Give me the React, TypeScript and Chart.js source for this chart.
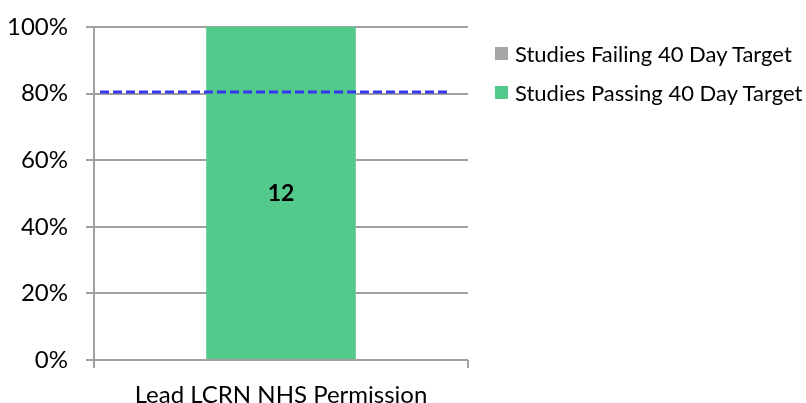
import React, { useEffect, useRef } from "react";
import { Chart, registerables } from "chart.js";

Chart.register(...registerables);

const categories = ["Lead LCRN NHS Permission"];
const failingCounts = [0];
const passingCounts = [12];
const targetPercent = 80;
const yTicks = [0, 20, 40, 60, 80, 100];
const seriesLabels = ["Studies Failing 40 Day Target", "Studies Passing 40 Day Target"];
const seriesColors = ["#A6A6A6", "#53C98B"];

const totals = categories.map((_, i) => failingCounts[i] + passingCounts[i]);
const failingPct = failingCounts.map((v, i) => (totals[i] ? (v / totals[i]) * 100 : 0));
const passingPct = passingCounts.map((v, i) => (totals[i] ? (v / totals[i]) * 100 : 0));

const FONT = "Lato, Carlito, Calibri, sans-serif";

const labelPlugin = {
  id: "barLabels",
  afterDatasetsDraw(chart: any) {
    const ctx = chart.ctx;
    const y = chart.scales.y.getPixelForValue(targetPercent) - 1.5;
    const { left, right } = chart.chartArea;
    ctx.save();
    ctx.strokeStyle = "#3636F0";
    ctx.lineWidth = 3;
    ctx.setLineDash([9, 4]);
    ctx.beginPath();
    ctx.moveTo(left + 6, y);
    ctx.lineTo(right - 20, y);
    ctx.stroke();
    ctx.setLineDash([]);
    const counts = [failingCounts, passingCounts];
    chart.data.datasets.forEach((ds: any, di: number) => {
      const meta = chart.getDatasetMeta(di);
      meta.data.forEach((bar: any, i: number) => {
        const c = counts[di][i];
        if (!c) return;
        const props = bar.getProps(["x", "y", "base"], true);
        ctx.fillStyle = "#000";
        ctx.font = `bold 23px ${FONT}`;
        ctx.textAlign = "center";
        ctx.textBaseline = "middle";
        ctx.fillText(String(c), props.x, (props.y + props.base) / 2 + 1);
      });
    });
    ctx.restore();
  },
};

export default function App() {
  const ref = useRef<HTMLCanvasElement>(null);
  useEffect(() => {
    if (!ref.current) return;
    const chart = new Chart(ref.current, {
      type: "bar",
      data: {
        labels: categories,
        datasets: [
          {
            label: seriesLabels[0],
            data: failingPct,
            backgroundColor: seriesColors[0],
            barPercentage: 0.4,
            categoryPercentage: 1,
          },
          {
            label: seriesLabels[1],
            data: passingPct,
            backgroundColor: seriesColors[1],
            barPercentage: 0.4,
            categoryPercentage: 1,
          },
        ],
      },
      options: {
        animation: false,
        responsive: false,
        layout: { padding: { top: 27, left: 6, right: 338, bottom: 0 } },
        plugins: {
          legend: { display: false },
          tooltip: { enabled: false },
        },
        scales: {
          x: {
            stacked: true,
            grid: {
              offset: true,
              drawOnChartArea: false,
              drawTicks: true,
              tickLength: 8,
              color: "#A0A0A0",
              lineWidth: 2,
            },
            border: { display: false },
            ticks: { color: "#000", font: { family: FONT, size: 24 }, padding: 13 },
            afterFit: (axis: any) => {
              axis.height = 43;
            },
          },
          y: {
            stacked: true,
            min: 0,
            max: 100,
            afterBuildTicks: (axis: any) => {
              axis.ticks = yTicks.map((v) => ({ value: v }));
            },
            grid: { color: "#A0A0A0", lineWidth: 2, tickLength: 8 },
            border: { display: true, color: "#A0A0A0", width: 2 },
            ticks: {
              color: "#000",
              font: { family: FONT, size: 24 },
              padding: 18,
              callback: (v: any) => `${v}%`,
            },
            afterFit: (axis: any) => {
              axis.width = 88;
              axis.paddingTop = 0;
              axis.paddingBottom = 0;
            },
          },
        },
      },
      plugins: [labelPlugin],
    });
    return () => chart.destroy();
  }, []);
  return (
    <div style={{ position: "fixed", left: 0, top: 0, width: 806, height: 403, background: "#fff", overflow: "hidden" }}>
      <canvas ref={ref} width={806} height={403} style={{ display: "block" }} />
      <div style={{ position: "absolute", left: 495, top: 37, fontFamily: FONT, fontSize: 22, color: "#000" }}>
        {seriesLabels.map((l, i) => (
          <div key={l} style={{ display: "flex", alignItems: "center", height: 32, marginBottom: 7, whiteSpace: "nowrap" }}>
            <span style={{ width: 13, height: 13, background: seriesColors[i], marginRight: 7, display: "inline-block" }} />
            <span>{l}</span>
          </div>
        ))}
      </div>
    </div>
  );
}
